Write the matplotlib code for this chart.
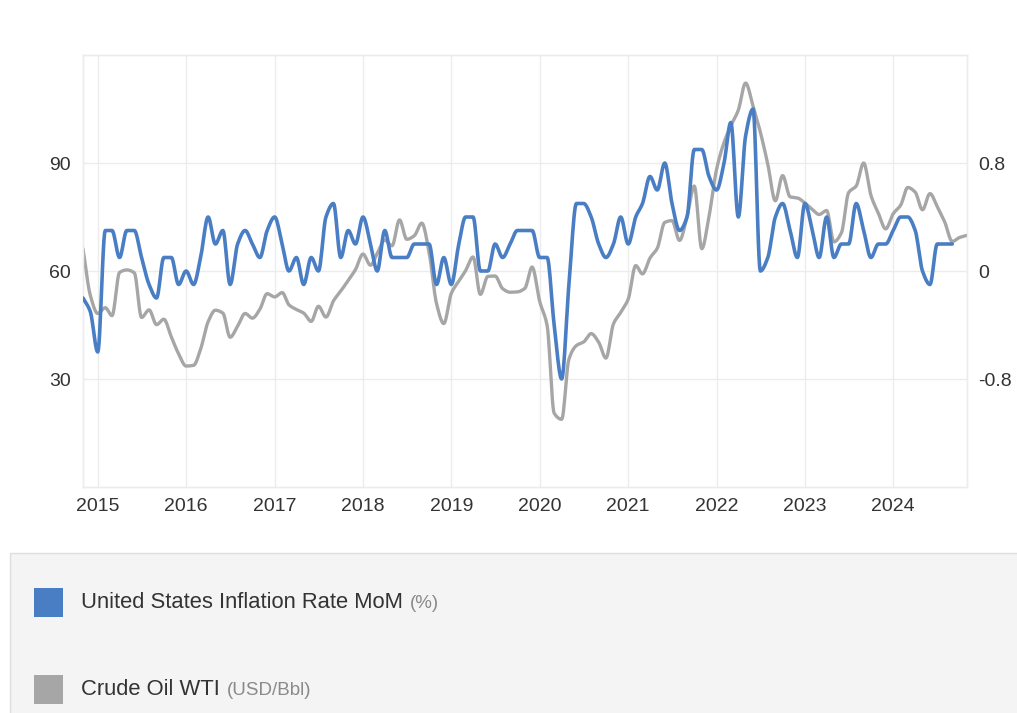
import matplotlib
matplotlib.use('agg')
import matplotlib.pyplot as plt
import matplotlib.dates as mdates
from matplotlib.patches import Rectangle
import numpy as np
import pandas as pd

plt.rcParams['font.family'] = ['Liberation Sans', 'DejaVu Sans']

# US inflation rate MoM (%), Nov 2014 .. Sep 2024
inflation_mom = [
    -0.2, -0.3,
    -0.6, 0.3, 0.3, 0.1, 0.3, 0.3, 0.1, -0.1, -0.2, 0.1, 0.1, -0.1,
    0.0, -0.1, 0.1, 0.4, 0.2, 0.3, -0.1, 0.2, 0.3, 0.2, 0.1, 0.3,
    0.4, 0.2, 0.0, 0.1, -0.1, 0.1, 0.0, 0.4, 0.5, 0.1, 0.3, 0.2,
    0.4, 0.2, 0.0, 0.3, 0.1, 0.1, 0.1, 0.2, 0.2, 0.2, -0.1, 0.1,
    -0.1, 0.2, 0.4, 0.4, 0.0, 0.0, 0.2, 0.1, 0.2, 0.3, 0.3, 0.3,
    0.1, 0.1, -0.4, -0.8, -0.1, 0.5, 0.5, 0.4, 0.2, 0.1, 0.2, 0.4,
    0.2, 0.4, 0.5, 0.7, 0.6, 0.8, 0.5, 0.3, 0.4, 0.9, 0.9, 0.7,
    0.6, 0.8, 1.1, 0.4, 1.0, 1.2, 0.0, 0.1, 0.4, 0.5, 0.3, 0.1,
    0.5, 0.3, 0.1, 0.4, 0.1, 0.2, 0.2, 0.5, 0.3, 0.1, 0.2, 0.2,
    0.3, 0.4, 0.4, 0.3, 0.0, -0.1, 0.2, 0.2, 0.2,
]

# Crude oil WTI (USD/Bbl), Nov 2014 .. Nov 2024
oil_wti = [
    66.2, 53.3,
    48.2, 49.8, 47.6, 59.6, 60.3, 59.5, 47.1, 49.2, 45.1, 46.6, 41.7, 37.0,
    33.6, 33.8, 38.3, 45.9, 49.1, 48.3, 41.6, 44.7, 48.2, 46.9, 49.4, 53.7,
    52.8, 54.0, 50.6, 49.3, 48.3, 46.0, 50.2, 47.2, 51.7, 54.4, 57.4, 60.4,
    64.7, 61.6, 64.9, 68.6, 67.0, 74.2, 68.8, 69.8, 73.3, 65.3, 50.9, 45.4,
    53.8, 57.2, 60.1, 63.9, 53.5, 58.5, 58.6, 55.1, 54.1, 54.2, 55.2, 61.1,
    51.6, 44.8, 20.5, 18.8, 35.5, 39.3, 40.3, 42.6, 40.2, 35.8, 45.3, 48.5,
    52.2, 61.5, 59.2, 63.6, 66.3, 73.5, 74.0, 68.5, 75.0, 83.6, 66.2, 75.2,
    88.2, 95.7, 100.3, 104.7, 112.2, 105.8, 98.6, 89.6, 79.5, 86.5, 80.6, 80.3,
    78.9, 77.1, 75.7, 76.8, 68.1, 70.6, 81.8, 83.6, 90.0, 81.0, 76.0, 71.7,
    75.9, 78.3, 83.2, 81.9, 77.0, 81.5, 77.9, 73.6, 68.2, 69.3, 69.9,
]

start_month = '2014-11-01'
inflation_label = 'United States Inflation Rate MoM'
inflation_unit = '(%)'
oil_label = 'Crude Oil WTI'
oil_unit = '(USD/Bbl)'

BLUE = '#4a7ec4'
GREY = '#a6a6a6'
GRID = '#ececec'
TEXT = '#333333'


def smooth(x, y, n=12):
    # monotone cubic (Fritsch-Carlson) through the points, for drawing only
    x = np.asarray(x, float)
    y = np.asarray(y, float)
    h = np.diff(x)
    d = np.diff(y) / h
    m = np.zeros_like(y)
    m[0], m[-1] = d[0], d[-1]
    for k in range(1, len(y) - 1):
        if d[k - 1] * d[k] > 0:
            w1 = 2 * h[k] + h[k - 1]
            w2 = h[k] + 2 * h[k - 1]
            m[k] = (w1 + w2) / (w1 / d[k - 1] + w2 / d[k])
    xs, ys = [], []
    for k in range(len(h)):
        t = np.linspace(0, 1, n, endpoint=False)
        h00 = 2 * t**3 - 3 * t**2 + 1
        h10 = t**3 - 2 * t**2 + t
        h01 = -2 * t**3 + 3 * t**2
        h11 = t**3 - t**2
        xs.append(x[k] + t * h[k])
        ys.append(h00 * y[k] + h10 * h[k] * m[k] + h01 * y[k + 1] + h11 * h[k] * m[k + 1])
    xs.append([x[-1]])
    ys.append([y[-1]])
    return np.concatenate(xs), np.concatenate(ys)


oil_dates = pd.date_range(start_month, periods=len(oil_wti), freq='MS')
infl_dates = pd.date_range(start_month, periods=len(inflation_mom), freq='MS')
oil_x = mdates.date2num(oil_dates)
infl_x = mdates.date2num(infl_dates)

W, H = 1017, 713
fig = plt.figure(figsize=(W / 100, H / 100), dpi=100)
fig.patch.set_facecolor('white')

L, R, T, B = 83, 967, 55, 487
ax = fig.add_axes([L / W, 1 - B / H, (R - L) / W, (B - T) / H])
ax2 = ax.twinx()

sx, sy = smooth(oil_x, oil_wti)
ax.plot(sx, sy, color=GREY, lw=2.4, solid_capstyle='round', zorder=3)
sx, sy = smooth(infl_x, inflation_mom)
ax2.plot(sx, sy, color=BLUE, lw=2.6, solid_capstyle='round', zorder=3)

ax.set_xlim(oil_x[0], oil_x[-1])
ax.set_ylim(0, 120)
ax2.set_ylim(-1.6, 1.6)

ax.set_yticks([30, 60, 90])
ax.set_yticklabels(['30', '60', '90'])
ax2.set_yticks([-0.8, 0, 0.8])
ax2.set_yticklabels(['-0.8', '0', '0.8'])

ax.xaxis.set_major_locator(mdates.YearLocator())
ax.xaxis.set_major_formatter(mdates.DateFormatter('%Y'))

ax.grid(True, color=GRID, lw=1)
ax.set_axisbelow(True)
for a in (ax, ax2):
    for s in a.spines.values():
        s.set_color(GRID)
        s.set_linewidth(1)
    a.tick_params(length=0, labelsize=14, labelcolor=TEXT)
ax.tick_params(axis='y', pad=9)
ax.tick_params(axis='x', pad=8)
ax2.tick_params(axis='y', pad=8)

# legend panel
fig.patches.append(Rectangle((10 / W, -0.01), 1.0, (H - 553) / H + 0.01,
                             transform=fig.transFigure, facecolor='#f4f4f4',
                             edgecolor='#dedede', lw=1, zorder=0))

entries = [(inflation_label, inflation_unit, BLUE, 602),
           (oil_label, oil_unit, GREY, 689)]
labels = []
for label, unit, color, yc in entries:
    fig.patches.append(Rectangle((34 / W, 1 - (yc + 15) / H), 29 / W, 29 / H,
                                 transform=fig.transFigure, facecolor=color,
                                 edgecolor='none', zorder=1))
    t1 = fig.text(81 / W, 1 - (yc + 6) / H, label, fontsize=15.8, color=TEXT,
                  va='baseline', ha='left')
    labels.append((t1, unit, yc))

fig.canvas.draw()
renderer = fig.canvas.get_renderer()
for t1, unit, yc in labels:
    bb = t1.get_window_extent(renderer=renderer)
    fig.text((bb.x1 + 7) / W, 1 - (yc + 6) / H, unit, fontsize=13.5,
             color='#8a8a8a', va='baseline', ha='left')

fig.savefig('out.png', dpi=100, facecolor='white')
